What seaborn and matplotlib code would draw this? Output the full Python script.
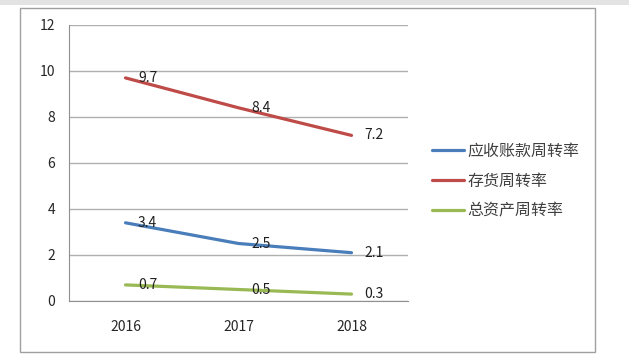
import matplotlib
matplotlib.use("Agg")
import matplotlib.pyplot as plt
from matplotlib.patches import Rectangle
import seaborn as sns
import pandas as pd

YEARS = ["2016", "2017", "2018"]
SERIES = ["应收账款周转率", "存货周转率", "总资产周转率"]
RECEIVABLE = [3.4, 2.5, 2.1]
INVENTORY = [9.7, 8.4, 7.2]
ASSETS = [0.7, 0.5, 0.3]
COLORS = ["#4A7EBB", "#BE4B48", "#98B954"]

rows = []
for name, vals in zip(SERIES, [RECEIVABLE, INVENTORY, ASSETS]):
    for i, (yr, v) in enumerate(zip(YEARS, vals)):
        rows.append({"year": yr, "pos": i, "value": v, "series": name})
df = pd.DataFrame(rows)

sns.set_style("white")
plt.rcParams["font.family"] = ["Noto Sans CJK SC", "DejaVu Sans"]

fig = plt.figure(figsize=(6.29, 3.62), dpi=100)
# top gray strip and outer chart frame
fig.patches.append(Rectangle((0, 1 - 5 / 362), 1, 5 / 362, transform=fig.transFigure,
                             facecolor="#e3e3e3", edgecolor="none"))
fig.patches.append(Rectangle((20 / 629, 1 - 352 / 362), 575 / 629, 344 / 362,
                             transform=fig.transFigure, facecolor="none",
                             edgecolor="#a0a0a0", linewidth=1.0))

ax = fig.add_axes([69 / 629, 1 - 301 / 362, 339 / 629, 276 / 362])
sns.lineplot(data=df, x="pos", y="value", hue="series", hue_order=SERIES,
             palette=COLORS, linewidth=2.3, ax=ax, legend=True)

for name, vals in zip(SERIES, [RECEIVABLE, INVENTORY, ASSETS]):
    for i, v in enumerate(vals):
        ax.annotate(f"{v}", (i, v), xytext=(9, 0), textcoords="offset points",
                    ha="left", va="center", fontsize=10, color="#202020")

ax.set_xlim(-0.5, 2.5)
ax.set_ylim(0, 12)
ax.set_yticks(range(0, 13, 2))
ax.set_xticks([0, 1, 2])
ax.set_xticklabels(YEARS)
ax.set_xticks([-0.5, 0.5, 1.5, 2.5], minor=True)
ax.tick_params(axis="x", which="major", length=0, pad=14, labelsize=10)
ax.tick_params(axis="x", which="minor", length=4, color="#909090", direction="out")
ax.tick_params(axis="y", length=4, color="#909090", labelsize=10, pad=6)
ax.grid(axis="y", color="#b0b0b0", linewidth=1)
ax.set_axisbelow(True)
for side in ["top", "right"]:
    ax.spines[side].set_visible(False)
for side in ["left", "bottom"]:
    ax.spines[side].set_color("#909090")
ax.set_xlabel("")
ax.set_ylabel("")

ax.legend(title=None, frameon=False, loc="center left",
          bbox_to_anchor=((432 - 69) / 339, 0.435), borderpad=0, borderaxespad=0,
          fontsize=11.5, handlelength=2.0, handletextpad=0.2, labelspacing=0.8,
          labelcolor="#404040")

fig.savefig("out.png", dpi=100)
